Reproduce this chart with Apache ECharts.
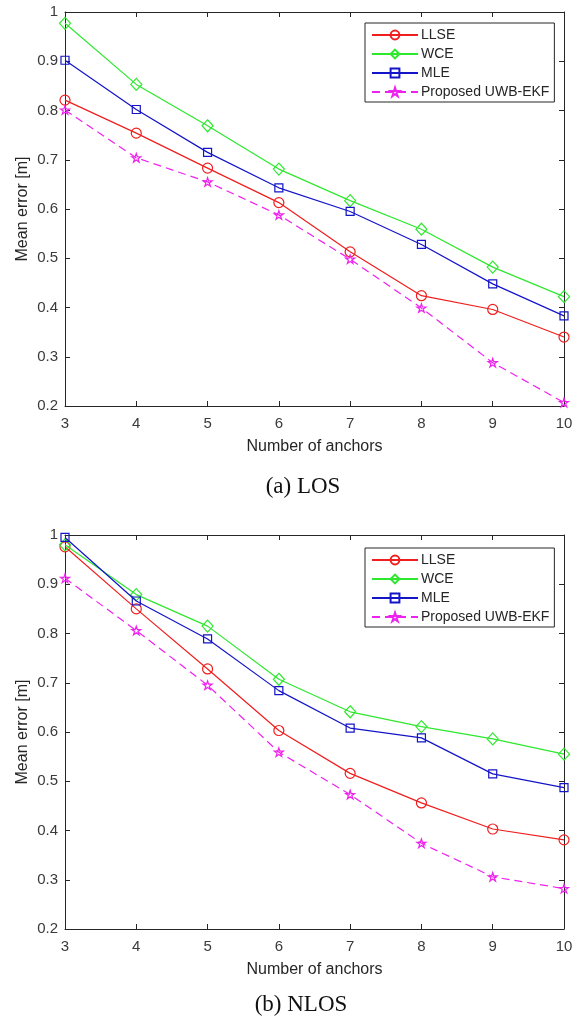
<!DOCTYPE html>
<html lang="en">

<head>
  <meta charset="UTF-8">
  <title>Mean error vs number of anchors</title>
  <style>
    html, body { margin: 0; padding: 0; background: #fff; }
  </style>
</head>

<body>
  <div id="main" style="width: 579px;height:1023px;"></div>

  <script src="https://cdn.jsdelivr.net/npm/echarts@6/dist/echarts.min.js"></script>

  <script type="text/javascript">
    // data
    const anchors = [3, 4, 5, 6, 7, 8, 9, 10];
    const yTicks = [0.2, 0.3, 0.4, 0.5, 0.6, 0.7, 0.8, 0.9, 1];
    const seriesNames = ['LLSE', 'WCE', 'MLE', 'Proposed UWB-EKF'];

    // (a) LOS
    const losLLSE = [0.821, 0.754, 0.683, 0.613, 0.513, 0.424, 0.396, 0.340];
    const losWCE = [0.977, 0.853, 0.769, 0.681, 0.617, 0.559, 0.482, 0.422];
    const losMLE = [0.902, 0.802, 0.715, 0.643, 0.595, 0.528, 0.448, 0.383];
    const losEKF = [0.801, 0.704, 0.655, 0.588, 0.498, 0.399, 0.288, 0.207];

    // (b) NLOS
    const nlosLLSE = [0.976, 0.850, 0.728, 0.603, 0.516, 0.456, 0.403, 0.381];
    const nlosWCE = [0.980, 0.879, 0.815, 0.707, 0.641, 0.611, 0.586, 0.555];
    const nlosMLE = [0.995, 0.866, 0.789, 0.684, 0.608, 0.588, 0.515, 0.487];
    const nlosEKF = [0.912, 0.806, 0.695, 0.559, 0.473, 0.374, 0.306, 0.282];

    var myChart = echarts.init(document.getElementById('main'));
    myChart.setOption(setOption());

    function setOption() {
      const axisColor = '#262626';
      const sans = 'Liberation Sans, Arial, sans-serif';
      const starPath = 'path://M100 0L122.45 69.1L195.1 69.1L136.33 111.8L158.8 180.9L100 138.2L41.2 180.9L63.67 111.8L4.9 69.1L77.55 69.1Z';

      const styles = [
        { color: '#f01e1e', symbol: 'circle', size: 10, dash: 'solid' },
        { color: '#2ee82e', symbol: 'diamond', size: [11, 12], dash: 'solid' },
        { color: '#1414c8', symbol: 'rect', size: 8, dash: 'solid' },
        { color: '#ee22ee', symbol: starPath, size: 9, dash: [8, 5] }
      ];

      const yMin = yTicks[0];
      const yMax = yTicks[yTicks.length - 1];

      const grids = [
        { left: 65, right: 15, top: 12, height: 394 },
        { left: 65, right: 15, top: 535, height: 394 }
      ];

      let xAxis = [];
      let yAxis = [];
      grids.forEach((g, gi) => {
        // bottom axis with labels
        xAxis.push({
          type: 'value', gridIndex: gi, min: anchors[0], max: anchors[anchors.length - 1], interval: 1,
          name: 'Number of anchors', nameLocation: 'middle', nameGap: 33,
          nameTextStyle: { fontFamily: sans, fontSize: 16, color: axisColor },
          axisLine: { lineStyle: { color: axisColor, width: 1 } },
          axisTick: { inside: true, length: 5, lineStyle: { color: axisColor } },
          axisLabel: { fontFamily: sans, fontSize: 15, color: '#3a3a3a', margin: 10 },
          splitLine: { show: false }
        });
        // top box edge
        xAxis.push({
          type: 'value', gridIndex: gi, position: 'top', min: anchors[0], max: anchors[anchors.length - 1], interval: 1,
          axisLine: { onZero: false, lineStyle: { color: axisColor, width: 1 } },
          axisTick: { inside: true, length: 5, lineStyle: { color: axisColor } },
          axisLabel: { show: false },
          splitLine: { show: false }
        });
        yAxis.push({
          type: 'value', gridIndex: gi, min: yMin, max: yMax, interval: 0.1,
          name: 'Mean error [m]', nameLocation: 'middle', nameGap: 34, nameMoveOverlap: false,
          nameTextStyle: { fontFamily: sans, fontSize: 16, color: axisColor },
          axisLine: { show: true, onZero: false, lineStyle: { color: axisColor, width: 1 } },
          axisTick: { show: true, inside: true, length: 5, lineStyle: { color: axisColor } },
          axisLabel: { fontFamily: sans, fontSize: 15, color: '#3a3a3a', margin: 7 },
          splitLine: { show: false }
        });
        yAxis.push({
          type: 'value', gridIndex: gi, position: 'right', min: yMin, max: yMax, interval: 0.1,
          axisLine: { show: true, onZero: false, lineStyle: { color: axisColor, width: 1 } },
          axisTick: { show: true, inside: true, length: 5, lineStyle: { color: axisColor } },
          axisLabel: { show: false },
          splitLine: { show: false }
        });
      });

      const panels = [
        [losLLSE, losWCE, losMLE, losEKF],
        [nlosLLSE, nlosWCE, nlosMLE, nlosEKF]
      ];

      let series = [];
      panels.forEach((vals, gi) => {
        vals.forEach((arr, si) => {
          const st = styles[si];
          series.push({
            name: seriesNames[si],
            type: 'line',
            xAxisIndex: gi * 2,
            yAxisIndex: gi * 2,
            data: anchors.map((a, i) => [a, arr[i]]),
            symbol: st.symbol,
            symbolSize: st.size,
            symbolKeepAspect: true,
            showAllSymbol: true,
            lineStyle: { color: st.color, width: 1.2, type: st.dash },
            itemStyle: { color: 'transparent', borderColor: st.color, borderWidth: 1.2 },
            emphasis: { disabled: true },
            z: 2 + si
          });
        });
      });

      const legendBase = {
        orient: 'vertical',
        left: 365,
        data: seriesNames,
        itemWidth: 46,
        itemHeight: 11,
        itemGap: 5,
        padding: [5, 5, 3, 6],
        backgroundColor: '#fff',
        borderColor: axisColor,
        borderWidth: 1,
        borderRadius: 0,
        selectedMode: false,
        textStyle: { fontFamily: sans, fontSize: 14, color: axisColor, padding: [0, 0, 0, -2] }
      };

      return {
        animation: false,
        backgroundColor: '#fff',
        grid: grids,
        xAxis: xAxis,
        yAxis: yAxis,
        legend: [
          Object.assign({}, legendBase, { top: 23 }),
          Object.assign({}, legendBase, { top: 548 })
        ],
        graphic: [
          {
            type: 'text', x: 303, y: 487,
            style: { text: '(a) LOS', align: 'center', verticalAlign: 'middle', font: '23px "Liberation Serif", serif', fill: '#111' }
          },
          {
            type: 'text', x: 301, y: 1005,
            style: { text: '(b) NLOS', align: 'center', verticalAlign: 'middle', font: '23px "Liberation Serif", serif', fill: '#111' }
          }
        ],
        series: series
      };
    }
  </script>
</body>

</html>
